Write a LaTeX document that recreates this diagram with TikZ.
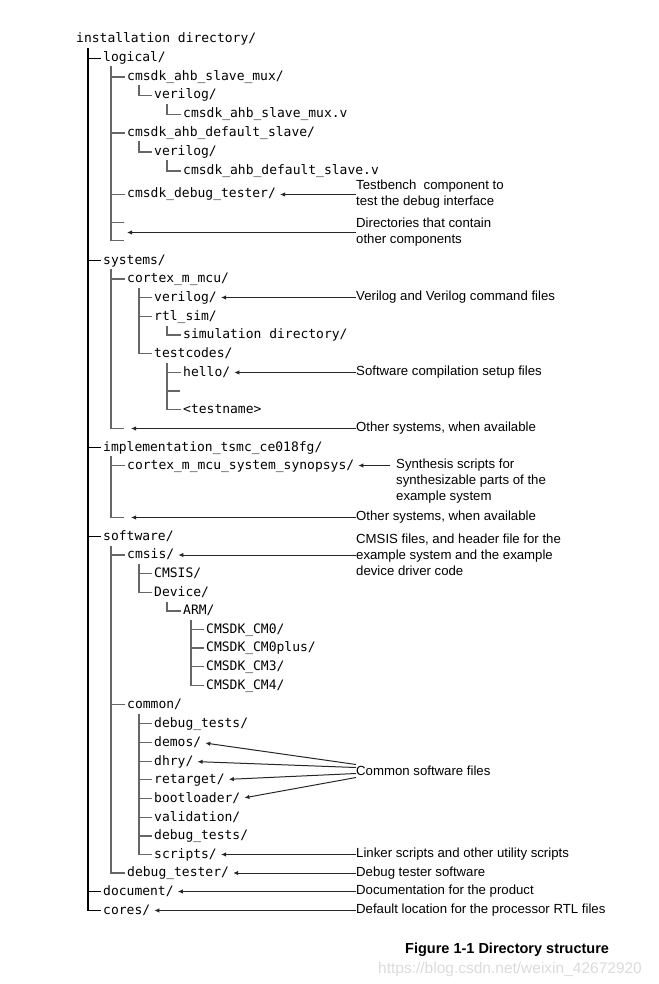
\documentclass[tikz,border=0pt]{standalone}
\usepackage{fontspec}
\setmainfont{Liberation Sans}
\setmonofont{DejaVu Sans Mono}
\usetikzlibrary{arrows.meta}
\newcommand{\treefont}{\ttfamily\fontsize{13}{15}\selectfont}
\newcommand{\notefont}{\fontsize{13.2}{16}\selectfont}
\tikzset{
  dirn/.style={anchor=west, inner sep=0pt, font=\treefont, text height=9.5pt, text depth=2.5pt},
  note/.style={anchor=west, inner sep=0pt, font=\notefont, align=left},
  trunk/.style={draw=black!60, line width=1.3pt},
  mainline/.style={trunk, draw=black},
  ptr/.style={-{Latex[length=5pt,width=4.5pt]}, line width=1pt, draw=black!85, shorten >=4pt},
}
\begin{document}
\begin{tikzpicture}[x=1pt,y=-1pt]
\useasboundingbox (0,-1.5) rectangle (658,982.5);
% ---------------- directory names
\node[dirn] (root) at (76,38) {installation directory/};
\node[dirn] (lg) at (103,57) {logical/};
\node[dirn] (mux) at (127,75.5) {cmsdk\_ahb\_slave\_mux/};
\node[dirn] (muxv) at (154,94) {verilog/};
\node[dirn] (muxf) at (183,113) {cmsdk\_ahb\_slave\_mux.v};
\node[dirn] (dfs) at (127,131.5) {cmsdk\_ahb\_default\_slave/};
\node[dirn] (dfsv) at (154,150.5) {verilog/};
\node[dirn] (dfsf) at (183,169.5) {cmsdk\_ahb\_default\_slave.v};
\node[dirn] (dbg) at (127,193) {cmsdk\_debug\_tester/};
\coordinate (lgA) at (124,221);
\coordinate (lgB) at (124,239);
\coordinate (lgT) at (123,231);
\node[dirn] (sys) at (103,259) {systems/};
\node[dirn] (cm) at (127,277.5) {cortex\_m\_mcu/};
\node[dirn] (cmv) at (154,296) {verilog/};
\node[dirn] (rtl) at (154,315) {rtl\_sim/};
\node[dirn] (sim) at (183,333.5) {simulation directory/};
\node[dirn] (tc) at (154,352) {testcodes/};
\node[dirn] (hello) at (183,371) {hello/};
\coordinate (tcA) at (180,389.5);
\node[dirn] (tn) at (183,408) {<testname>};
\coordinate (sysA) at (124,427);
\coordinate (sysT) at (127,427);
\node[dirn] (impl) at (103,446) {implementation\_tsmc\_ce018fg/};
\node[dirn] (syn) at (127,464) {cortex\_m\_mcu\_system\_synopsys/};
\coordinate (implA) at (124,516);
\coordinate (implT) at (127,516);
\node[dirn] (sw) at (103,535) {software/};
\node[dirn] (cmsis) at (127,553.5) {cmsis/};
\node[dirn] (CMSIS) at (154,572) {CMSIS/};
\node[dirn] (dev) at (154,591) {Device/};
\node[dirn] (arm) at (183,609.5) {ARM/};
\node[dirn] (cm0) at (206,628) {CMSDK\_CM0/};
\node[dirn] (cm0p) at (206,646.5) {CMSDK\_CM0plus/};
\node[dirn] (cm3) at (206,665) {CMSDK\_CM3/};
\node[dirn] (cm4) at (206,684) {CMSDK\_CM4/};
\node[dirn] (com) at (127,703) {common/};
\node[dirn] (dt1) at (154,722) {debug\_tests/};
\node[dirn] (demos) at (154,741) {demos/};
\node[dirn] (dhry) at (154,760) {dhry/};
\node[dirn] (ret) at (154,778) {retarget/};
\node[dirn] (boot) at (154,797) {bootloader/};
\node[dirn] (val) at (154,816) {validation/};
\node[dirn] (dt2) at (154,834.5) {debug\_tests/};
\node[dirn] (scr) at (154,853) {scripts/};
\node[dirn] (dbt) at (127,871.5) {debug\_tester/};
\node[dirn] (doc) at (103,890) {document/};
\node[dirn] (cores) at (103,909) {cores/};
% ---------------- tree lines
\coordinate (sRoot) at (88,47);
\foreach \c in {lg,sys,impl,sw,doc} \draw[mainline] (sRoot |- \c.west) -- ([xshift=-2pt]\c.west);
\draw[mainline] (sRoot) |- ([xshift=-2pt]cores.west);
% logical
\coordinate (sLg) at (111,65);
\foreach \c in {mux,dfs,dbg} \draw[trunk] (sLg |- \c.west) -- ([xshift=-2pt]\c.west);
\draw[trunk] (sLg |- lgA) -- (lgA);
\draw[trunk] (sLg) |- (lgB);
\coordinate (sMux) at (139,84);
\draw[trunk] (sMux) |- ([xshift=-2pt]muxv.west);
\coordinate (sMuxV) at (167,103);
\draw[trunk] (sMuxV) |- ([xshift=-2pt]muxf.west);
\coordinate (sDfs) at (139,140);
\draw[trunk] (sDfs) |- ([xshift=-2pt]dfsv.west);
\coordinate (sDfsV) at (167,159);
\draw[trunk] (sDfsV) |- ([xshift=-2pt]dfsf.west);
% systems
\coordinate (sSys) at (111,267);
\draw[trunk] (sSys |- cm.west) -- ([xshift=-2pt]cm.west);
\draw[trunk] (sSys) |- (sysA);
\coordinate (sCm) at (139,286);
\foreach \c in {cmv,rtl} \draw[trunk] (sCm |- \c.west) -- ([xshift=-2pt]\c.west);
\draw[trunk] (sCm) |- ([xshift=-2pt]tc.west);
\coordinate (sRtl) at (167,324);
\draw[trunk] (sRtl) |- ([xshift=-2pt]sim.west);
\coordinate (sTc) at (167,361);
\draw[trunk] (sTc |- hello.west) -- ([xshift=-2pt]hello.west);
\draw[trunk] (sTc |- tcA) -- (tcA);
\draw[trunk] (sTc) |- ([xshift=-2pt]tn.west);
% implementation
\coordinate (sImpl) at (111,454);
\draw[trunk] (sImpl |- syn.west) -- ([xshift=-2pt]syn.west);
\draw[trunk] (sImpl) |- (implA);
% software
\coordinate (sSw) at (111,544);
\foreach \c in {cmsis,com} \draw[trunk] (sSw |- \c.west) -- ([xshift=-2pt]\c.west);
\draw[trunk] (sSw) |- ([xshift=-2pt]dbt.west);
\coordinate (sCmsis) at (139,562);
\draw[trunk] (sCmsis |- CMSIS.west) -- ([xshift=-2pt]CMSIS.west);
\draw[trunk] (sCmsis) |- ([xshift=-2pt]dev.west);
\coordinate (sDev) at (167,600);
\draw[trunk] (sDev) |- ([xshift=-2pt]arm.west);
\coordinate (sArm) at (191,618);
\foreach \c in {cm0,cm0p,cm3} \draw[trunk] (sArm |- \c.west) -- ([xshift=-2pt]\c.west);
\draw[trunk] (sArm) |- ([xshift=-2pt]cm4.west);
\coordinate (sCom) at (139,712);
\foreach \c in {dt1,demos,dhry,ret,boot,val,dt2} \draw[trunk] (sCom |- \c.west) -- ([xshift=-2pt]\c.west);
\draw[trunk] (sCom) |- ([xshift=-2pt]scr.west);
% ---------------- notes
\node[note] (nDbg) at (356,193) {Testbench\ \ component to\\test the debug interface};
\node[note] (nLg) at (356,231) {Directories that contain\\other components};
\node[note] (nCmv) at (356,296) {Verilog and Verilog command files};
\node[note] (nHello) at (356,371) {Software compilation setup files};
\node[note] (nSys) at (356,427) {Other systems, when available};
\node[note] (nSyn) at (396,480) {Synthesis scripts for\\synthesizable parts of the\\example system};
\node[note] (nImpl) at (356,516) {Other systems, when available};
\node[note] (nCmsis) at (356,553) {CMSIS files, and header file for the\\example system and the example\\device driver code};
\node[note] (nCom) at (356,769) {Common software files};
\node[note] (nScr) at (356,853) {Linker scripts and other utility scripts};
\node[note] (nDbt) at (356,871.5) {Debug tester software};
\node[note] (nDoc) at (356,890) {Documentation for the product};
\node[note] (nCores) at (356,909) {Default location for the processor RTL files};
% ---------------- pointers
\foreach \n/\d in {nDbg/dbg,nCmv/cmv,nHello/hello,nCmsis/cmsis,nScr/scr,nDbt/dbt,nDoc/doc,nCores/cores}
  \draw[ptr] (\n.west |- \d.east) -- (\d.east);
\draw[ptr] (nLg.west |- lgT) -- (lgT);
\draw[ptr] (nSys.west |- sysT) -- (sysT);
\draw[ptr] (nImpl.west |- implT) -- (implT);
\draw[ptr] ([xshift=-6pt]nSyn.west |- syn.east) -- (syn.east);
\draw[ptr] ([yshift=6pt]nCom.west) -- (demos.east);
\draw[ptr] ([yshift=3pt]nCom.west) -- (dhry.east);
\draw[ptr] ([yshift=-3pt]nCom.west) -- (ret.east);
\draw[ptr] ([yshift=-7pt]nCom.west) -- (boot.east);
% ---------------- caption
\node[anchor=west, inner sep=0pt, font=\bfseries\fontsize{14.5}{17}\selectfont] (cap) at (405,948) {Figure 1-1 Directory structure};
\node[anchor=west, inner sep=0pt, text=black!14, font=\fontsize{15.5}{18}\selectfont] (wm) at (378,968) {https://blog.csdn.net/weixin\_42672920};
\end{tikzpicture}
\end{document}
